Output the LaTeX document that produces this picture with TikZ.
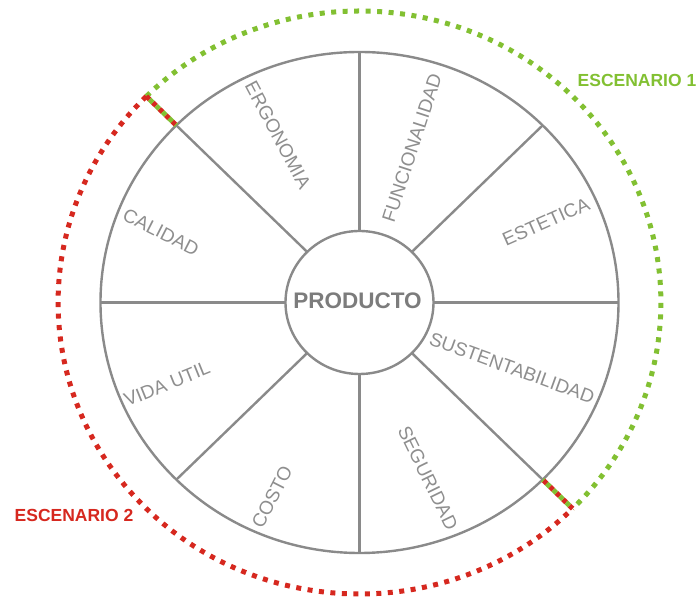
\documentclass[tikz,border=0pt]{standalone}
\usepackage{fontspec}
\setmainfont{Liberation Sans}
\usetikzlibrary{shapes.geometric}
\definecolor{wheelgray}{HTML}{8A8A8A}
\definecolor{labelgray}{HTML}{8E8E8E}
\definecolor{prodgray}{HTML}{7C7C7C}
\definecolor{scgreen}{HTML}{82C032}
\definecolor{scred}{HTML}{D6281F}
\begin{document}
\begin{tikzpicture}[x=1pt,y=1pt,
  wheel/.style={draw=wheelgray,line width=2.4pt},
  lbl/.style={text=labelgray,font=\fontsize{19}{19}\selectfont,inner sep=0pt},
  scen/.style={font=\bfseries\fontsize{17.5}{17.5}\selectfont,inner sep=0pt},
  greendot/.style={draw=scgreen,line width=5pt,dash pattern=on 5pt off 6.5pt},
  reddot/.style={draw=scred,line width=5pt,dash pattern=on 5pt off 6.5pt},
  sepred/.style={draw=scred,line width=5pt,dash pattern=on 4.5pt off 4.5pt},
  sepgreen/.style={draw=scgreen,line width=5pt,dash pattern=on 4.5pt off 4.5pt,dash phase=4.5pt}]
\useasboundingbox (-359.5,-298.5) rectangle (339.5,302.5);
\coordinate (c) at (0,0);
% wheel
\draw[wheel] (c) ellipse [x radius=259pt, y radius=250.5pt];
\node[wheel,ellipse,minimum width=148pt,minimum height=143pt,inner sep=0pt] (prod) at (c) {};
\node[text=prodgray,font=\bfseries\fontsize{22.5}{22.5}\selectfont,inner sep=0pt] (prodtxt) at (-2,2) {PRODUCTO};
\foreach \a in {0,45,...,315}{
  \coordinate (i\a) at ({74*cos(\a)},{71.5*sin(\a)});
  \coordinate (o\a) at ({259*cos(\a)},{250.5*sin(\a)});
  \coordinate (d\a) at ({301.4*cos(\a)},{291.5*sin(\a)});
  \draw[wheel] (i\a) -- (o\a);
}
% labels
\node[lbl,rotate=-62] (ergo) at (-81.5,167.5) {ERGONOMIA};
\node[lbl,rotate=72] (func) at (52.5,154.5) {FUNCIONALIDAD};
\node[lbl,rotate=24] (este) at (186.5,80.5) {ESTETICA};
\node[lbl,rotate=-20] (sust) at (152.5,-65.5) {SUSTENTABILIDAD};
\node[lbl,rotate=-64] (segu) at (68.5,-175.5) {SEGURIDAD};
\node[lbl,rotate=63] (cost) at (-87.5,-194.5) {COSTO};
\node[lbl,rotate=22] (vida) at (-192.5,-81.5) {VIDA UTIL};
\node[lbl,rotate=-27] (cali) at (-198.5,70.5) {CALIDAD};
% scenarios
\draw[greendot] (d135) arc [start angle=135, end angle=-45, x radius=301.4pt, y radius=291.5pt];
\draw[reddot] (d135) arc [start angle=135, end angle=315, x radius=301.4pt, y radius=291.5pt];
\draw[sepred] (d135) -- (o135);
\draw[sepgreen] (d135) -- (o135);
\draw[sepred] (d315) -- (o315);
\draw[sepgreen] (d315) -- (o315);
\node[scen,text=scgreen] (sc1) at (277.5,222.5) {ESCENARIO 1};
\node[scen,text=scred] (sc2) at (-285.5,-212.5) {ESCENARIO 2};
\end{tikzpicture}
\end{document}
